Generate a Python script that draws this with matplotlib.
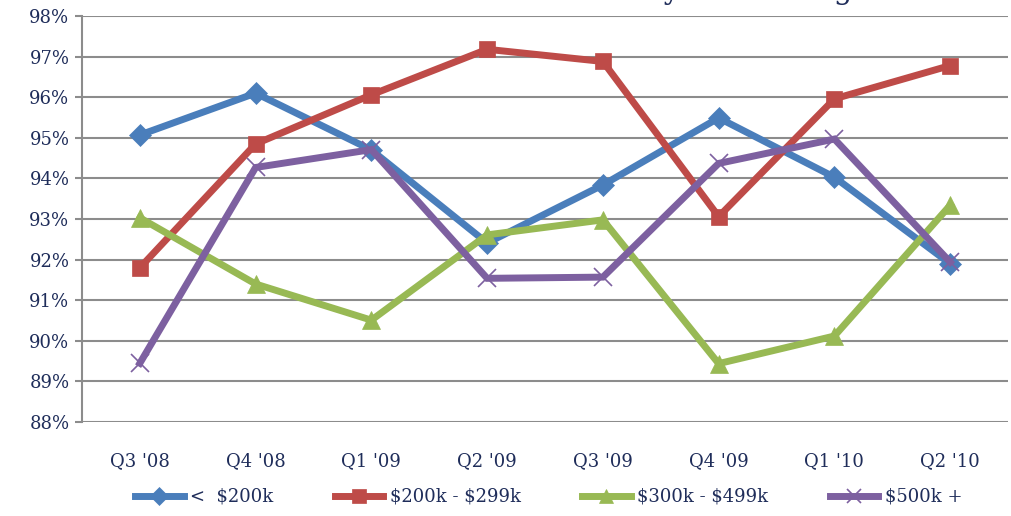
import matplotlib
matplotlib.use("Agg")
import matplotlib.pyplot as plt
from matplotlib.ticker import FuncFormatter

# ---------- Data ----------
quarters = ["Q3 '08", "Q4 '08", "Q1 '09", "Q2 '09", "Q3 '09", "Q4 '09", "Q1 '10", "Q2 '10"]
under_200k = [95.07, 96.10, 94.70, 92.41, 93.84, 95.49, 94.03, 91.90]
k200_299 = [91.80, 94.85, 96.06, 97.18, 96.88, 93.06, 95.96, 96.78]
k300_499 = [93.03, 91.40, 90.51, 92.61, 92.98, 89.44, 90.12, 93.34]
k500_plus = [89.45, 94.27, 94.71, 91.54, 91.57, 94.37, 94.97, 91.94]
series_labels = [r"<  \$200k", r"\$200k - \$299k", r"\$300k - \$499k", r"\$500k +"]

TXT = '#1F2D5A'
GRID = '#8C8C8C'
plt.rcParams['font.family'] = ['DejaVu Serif']

fig = plt.figure(figsize=(10.11, 5.16), dpi=100)
ax = fig.add_axes([0.0811, 0.182, 0.916, 0.787])

x = list(range(len(quarters)))
styles = [
    (under_200k, '#4A7EBB', 'D', 11, 0.5),
    (k200_299, '#BE4B48', 's', 12, 0.5),
    (k300_499, '#98B954', '^', 13, 0.5),
    (k500_plus, '#7D60A0', 'x', 13, 1.2),
]
for (vals, c, m, ms, mew), lab in zip(styles, series_labels):
    ax.plot(x, vals, color=c, lw=5, marker=m, ms=ms, mfc=c, mec=c, mew=mew,
            label=lab, solid_joinstyle='miter', zorder=3)

ax.set_xlim(-0.5, len(quarters) - 0.5)
ax.set_ylim(88, 98)
ax.set_yticks(range(88, 99))
ax.yaxis.set_major_formatter(FuncFormatter(lambda v, p: f"{int(v)}%"))
ax.set_xticks(x)
ax.set_xticklabels(quarters)
ax.grid(axis='y', color=GRID, lw=1.5, zorder=0)
for s in ['top', 'right', 'bottom']:
    ax.spines[s].set_visible(False)
ax.spines['left'].set_color(GRID)
ax.spines['left'].set_linewidth(1.5)
ax.tick_params(axis='y', colors=GRID, labelcolor=TXT, labelsize=13, length=5, width=1.5, pad=4)
ax.tick_params(axis='x', length=0, labelcolor=TXT, labelsize=13, pad=22)

leg = fig.legend(loc='lower center', bbox_to_anchor=(0.5425, -0.012), ncol=4, frameon=False,
                 fontsize=13, handlelength=2.7, columnspacing=3.4, handletextpad=0.35,
                 markerscale=0.8)
for t in leg.get_texts():
    t.set_color(TXT)

# title sits above the canvas in the source, only the descenders reach into the picture
fig.text(0.86, 1 + 1.0 / 516, "Percent of List Price Received by Price Range", ha='right',
         va='baseline', fontsize=21, color=TXT)

fig.savefig("out.png", dpi=100)
